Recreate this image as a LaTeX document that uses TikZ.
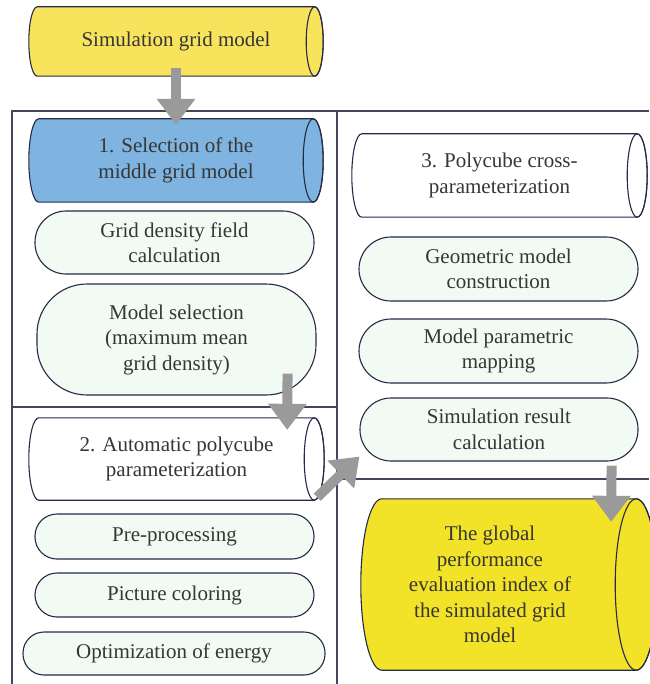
\documentclass[tikz,border=0pt]{standalone}
\usepackage{fontspec}
\setmainfont{Liberation Serif}
\usetikzlibrary{arrows.meta,calc,backgrounds}

\definecolor{edgec}{HTML}{262949}
\definecolor{framec}{HTML}{44465F}
\definecolor{textc}{HTML}{363636}
\definecolor{yellowA}{HTML}{F8E45C}
\definecolor{yellowB}{HTML}{F2E228}
\definecolor{blueA}{HTML}{7EB4DF}
\definecolor{paleg}{HTML}{F2FAF4}
\definecolor{arrowc}{HTML}{9A9A9A}

\tikzset{
  edge/.style={draw=edgec, line width=1.1pt},
  txt/.style={text=textc, align=center, inner sep=0pt,
    font=\fontsize{21}{25.5}\selectfont},
  cylnode/.style={txt, draw=none},
  pill/.style={txt, edge, fill=paleg},
  frame/.style={draw=framec, line width=1.8pt},
  bigarrow/.style={draw=arrowc, line width=10pt,
    -{Triangle[width=37pt,length=26pt]}, shorten <=0pt}
}

% cylinder lying on its side, drawn behind node #1;
% #2 fill, #3 end-ellipse x radius, #4 extra length on the right
\newcommand\drawcyl[4]{%
  \begin{pgfonlayer}{background}
    \draw[edge, fill=#2] let \p1=(#1.north west), \p2=(#1.south east),
        \n1={(\y1-\y2)/2} in
      (\x1+#3,\y1) -- (\x2+#4-#3,\y1)
      arc[start angle=90, end angle=-90, x radius=#3, y radius=\n1]
      -- (\x1+#3,\y2)
      arc[start angle=270, end angle=90, x radius=#3, y radius=\n1] -- cycle;
    \draw[edge] let \p1=(#1.north west), \p2=(#1.south east),
        \n1={(\y1-\y2)/2} in
      (\x2+#4-#3,{(\y1+\y2)/2}) ellipse[x radius=#3, y radius=\n1];
  \end{pgfonlayer}}

\begin{document}
\begin{tikzpicture}[x=1pt, y=1pt]
  \useasboundingbox (0,0) rectangle (649,-684);

  % section frames
  \draw[frame] (12,-684) -- (12,-111) -- (649,-111);
  \draw[frame] (337,-111) -- (337,-684);
  \draw[frame] (12,-407) -- (337,-407);
  \draw[frame] (337,-479) -- (649,-479);

  % input model
  \node[cylnode, minimum width=294, minimum height=69] (sim) at (176,-41.5)
    {Simulation grid model};
  \drawcyl{sim}{yellowA}{8.5pt}{0pt}

  % stage 1
  \node[cylnode, minimum width=294, minimum height=83] (sel) at (176,-160.5)
    {1. Selection of the\\middle grid model};
  \drawcyl{sel}{blueA}{10pt}{0pt}
  \node[pill, minimum width=279, minimum height=63, rounded corners=31pt]
    (dens) at (174.5,-242.5) {Grid density field\\calculation};
  \node[pill, minimum width=279, minimum height=111, rounded corners=50pt]
    (msel) at (176.5,-339.5) {Model selection\\(maximum mean\\grid density)};

  % stage 2
  \node[cylnode, minimum width=295, minimum height=82] (auto) at (176.5,-459)
    {2. Automatic polycube\\parameterization};
  \drawcyl{auto}{white}{10pt}{0pt}
  \node[pill, minimum width=279, minimum height=45, rounded corners=22pt]
    (pre) at (174.5,-536.5) {Pre-processing};
  \node[pill, minimum width=279, minimum height=44, rounded corners=22pt]
    (col) at (174.5,-595) {Picture coloring};
  \node[pill, minimum width=302, minimum height=43, rounded corners=21pt]
    (opt) at (174,-653.5) {Optimization of energy};

  % stage 3
  \node[cylnode, minimum width=295, minimum height=83] (poly) at (499.5,-175.5)
    {3. Polycube cross-\\parameterization};
  \drawcyl{poly}{white}{10pt}{0pt}
  \node[pill, minimum width=279, minimum height=64, rounded corners=32pt]
    (geo) at (498.5,-269) {Geometric model\\construction};
  \node[pill, minimum width=279, minimum height=64, rounded corners=32pt]
    (map) at (498.5,-351) {Model parametric\\mapping};
  \node[pill, minimum width=278, minimum height=63, rounded corners=31pt]
    (simres) at (499,-429.5) {Simulation result\\calculation};

  % result
  \node[cylnode, minimum width=258, minimum height=171] (final) at (490,-584.5)
    {The global\\performance\\evaluation index of\\the simulated grid\\model};
  \drawcyl{final}{yellowB}{21pt}{38pt}

  % flow arrows
  \draw[bigarrow] ([yshift=8]sim.south) -- ([yshift=-6]sel.north);
  \draw[bigarrow] ([shift={(-29,22)}]msel.south east)
    -- ([shift={(-37,-12)}]auto.north east);
  \draw[bigarrow] ([shift={(-7,3)}]auto.south east)
    -- ([shift={(0,5)}]simres.south west);
  \draw[bigarrow] ([shift={(-27,-4)}]simres.south east)
    -- ([shift={(-8,-23)}]final.north east);
\end{tikzpicture}
\end{document}
